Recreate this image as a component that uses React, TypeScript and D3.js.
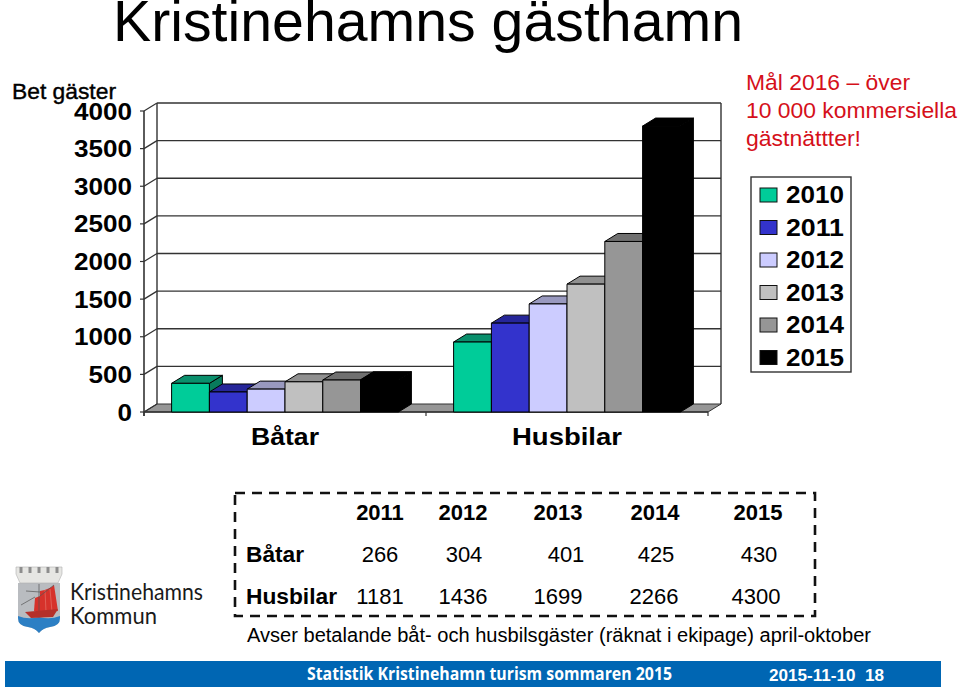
import React from "react";
import * as d3 from "d3";

const categories = ["Båtar", "Husbilar"];
const years = ["2010", "2011", "2012", "2013", "2014", "2015"];
const seriesColors = ["#00cc99", "#3333cc", "#ccccff", "#c0c0c0", "#969696", "#000000"];
const seriesTops = ["#0a8f6c", "#262699", "#9999bf", "#909090", "#707070", "#000000"];
const seriesSides = ["#087a5c", "#1f1f80", "#8080a0", "#7a7a7a", "#5e5e5e", "#000000"];

// bar heights as drawn in the chart (the last Husbilar bar stops below the table's 4300)
const boatBars = [381, 266, 304, 401, 425, 430];
const camperBars = [930, 1181, 1436, 1699, 2266, 3800];

const tableYears = ["2011", "2012", "2013", "2014", "2015"];
const tableBoats = ["266", "304", "401", "425", "430"];
const tableCampers = ["1181", "1436", "1699", "2266", "4300"];

const tableHeadX = [380, 463, 558, 655, 758];
const tableBoatX = [380, 464, 566, 656, 759];
const tableCamperX = [380, 463, 558, 654, 756];

const DX = 13;
const DY = -8;
const sans = "'Liberation Sans', Arial, sans-serif";

const y = d3.scaleLinear().domain([0, 4000]).range([412, 111]);
const x0 = d3.scaleBand<string>().domain(categories).range([144, 708]);
const x1 = d3
  .scaleBand<string>()
  .domain(years)
  .range([0, x0.bandwidth()])
  .paddingInner(0)
  .paddingOuter(0.73);

const poly = (pts: [number, number][]) => {
  const p = d3.path();
  pts.forEach(([a, b], i) => (i ? p.lineTo(a, b) : p.moveTo(a, b)));
  p.closePath();
  return p.toString();
};

const Bar = ({ left, value, i }: { left: number; value: number; i: number }) => {
  const w = x1.bandwidth();
  const t = y(value);
  const b = y(0);
  const stroke = "#000";
  return (
    <g stroke={stroke} strokeWidth={1} strokeLinejoin="round">
      <path
        d={poly([[left + w, t], [left + w + DX, t + DY], [left + w + DX, b + DY], [left + w, b]])}
        fill={seriesSides[i]}
      />
      <path
        d={poly([[left, t], [left + DX, t + DY], [left + w + DX, t + DY], [left + w, t]])}
        fill={seriesTops[i]}
      />
      <rect x={left} y={t} width={w} height={b - t} fill={seriesColors[i]} />
    </g>
  );
};

const Logo = () => (
  <g>
    <path d="M18 583 L60 583 L60 618 Q60 626 50 627 Q43 628 39 633 Q35 628 28 627 Q18 626 18 618 Z" fill="#b9bcc0" />
    <path d="M16 567 L62 567 L62 574 L58 583 L20 583 L16 574 Z" fill="#e6e6e3" stroke="#b0b0b0" strokeWidth={0.6} />
    {d3.range(5).map((k) => (
      <rect key={k} x={19.5 + k * 9} y={567} width={3} height={6} fill="#8d8d8d" />
    ))}
    <path d="M18 616 Q28 620 39 617 Q50 620 60 616 L60 618 Q60 626 50 627 Q43 628 39 633 Q35 628 28 627 Q18 626 18 618 Z" fill="#2c7fc4" />
    <path d="M40 591 Q50 589 54 585 L58 611 L40 613 Z" fill="#d6322b" />
    <path d="M35 598 L40 596 L40 611 L34 611 Z" fill="#d6322b" />
    <path d="M45 590 L46 612 M50 589 L52 612" stroke="#e88a80" strokeWidth={0.5} fill="none" />
    <path d="M26 591 L40 592 M39 584 L39 612 M21 605 L35 597 M54 585 L40 596" stroke="#555" strokeWidth={0.7} fill="none" />
    <path d="M25 612 L58 609 L53 617 L31 618 Z" fill="#b5302a" />
  </g>
);

export default function App() {
  const ticks = y.ticks(8);
  const floor = y(0);
  const axisColor = "#333";

  return (
    <svg
      width={960}
      height={692}
      style={{ position: "absolute", left: 0, top: 0, background: "#fff" }}
      fontFamily={sans}
    >
      <text x={113} y={41} fontSize={57} textLength={630} lengthAdjust="spacingAndGlyphs" fill="#000">
        Kristinehamns gästhamn
      </text>
      <text x={12} y={99} fontSize={22} textLength={104} lengthAdjust="spacingAndGlyphs" stroke="#000" strokeWidth={0.4}>
        Bet gäster
      </text>

      {/* back wall and grid */}
      {ticks.slice(1).map((t) => (
        <line key={t} x1={144 + DX} x2={708 + DX} y1={y(t) + DY} y2={y(t) + DY} stroke={axisColor} strokeWidth={1.4} />
      ))}
      <line x1={144 + DX} x2={144 + DX} y1={y(4000) + DY} y2={floor + DY} stroke={axisColor} strokeWidth={1.4} />
      <line x1={708 + DX} x2={708 + DX} y1={y(4000) + DY} y2={floor + DY} stroke={axisColor} strokeWidth={1.4} />
      <path
        d={poly([[144, floor], [144 + DX, floor + DY], [708 + DX, floor + DY], [708, floor]])}
        fill="#969696"
        stroke={axisColor}
        strokeWidth={1}
      />

      {/* y axis */}
      <line x1={144} x2={144} y1={y(4000)} y2={floor + 4} stroke={axisColor} strokeWidth={1.6} />
      {ticks.map((t) => (
        <g key={t}>
          <line x1={140} x2={144} y1={y(t)} y2={y(t)} stroke={axisColor} strokeWidth={1.2} />
          <line x1={144} x2={144 + DX} y1={y(t)} y2={y(t) + DY} stroke={axisColor} strokeWidth={1.2} />
          <text
            x={132}
            y={y(t) + 8.5}
            textAnchor="end"
            fontSize={23}
            fontWeight="bold"
            textLength={t === 0 ? 14.5 : t < 1000 ? 43.5 : 58}
            lengthAdjust="spacingAndGlyphs"
          >
            {t}
          </text>
        </g>
      ))}

      {/* x axis */}
      <line x1={144} x2={708} y1={floor} y2={floor} stroke={axisColor} strokeWidth={1.4} />
      {[144, 426, 708].map((v) => (
        <line key={v} x1={v} x2={v} y1={floor} y2={floor + 4} stroke={axisColor} strokeWidth={1.2} />
      ))}

      {/* bars */}
      {categories.map((c, ci) =>
        (ci === 0 ? boatBars : camperBars).map((v, i) => (
          <Bar key={c + i} left={(x0(c) as number) + (x1(years[i]) as number)} value={v} i={i} />
        ))
      )}

      <text x={251} y={445} fontSize={24} fontWeight="bold" textLength={68} lengthAdjust="spacingAndGlyphs">
        {categories[0]}
      </text>
      <text x={512} y={445} fontSize={24} fontWeight="bold" textLength={110} lengthAdjust="spacingAndGlyphs">
        {categories[1]}
      </text>

      {/* note */}
      <g fill="#d5101a" fontSize={22}>
        <text x={746} y={90} textLength={164} lengthAdjust="spacingAndGlyphs">Mål 2016 – över</text>
        <text x={746} y={118} textLength={211} lengthAdjust="spacingAndGlyphs">10 000 kommersiella</text>
        <text x={746} y={146} textLength={115} lengthAdjust="spacingAndGlyphs">gästnättter!</text>
      </g>

      {/* legend */}
      <rect x={751} y={177} width={100} height={195} fill="#fff" stroke="#333" strokeWidth={1.4} />
      {years.map((yr, i) => {
        const cy = 195 + i * 32.5;
        return (
          <g key={yr}>
            <rect x={760} y={cy - 7} width={17} height={14} fill={seriesColors[i]} stroke="#111" strokeWidth={1} />
            <text x={786} y={cy + 8} fontSize={23} fontWeight="bold" textLength={58} lengthAdjust="spacingAndGlyphs">
              {yr}
            </text>
          </g>
        );
      })}

      {/* table */}
      <rect x={235} y={493} width={580} height={123} fill="none" stroke="#111" strokeWidth={2.6} strokeDasharray="10 7" />
      {tableYears.map((yr, i) => (
        <text key={yr} x={tableHeadX[i]} y={520} textAnchor="middle" fontSize={22} fontWeight="bold">
          {yr}
        </text>
      ))}
      <text x={246} y={562} fontSize={22} fontWeight="bold" textLength={58} lengthAdjust="spacingAndGlyphs">{categories[0]}</text>
      <text x={246} y={604} fontSize={22} fontWeight="bold" textLength={91} lengthAdjust="spacingAndGlyphs">{categories[1]}</text>
      {tableBoats.map((v, i) => (
        <text key={v} x={tableBoatX[i]} y={562} textAnchor="middle" fontSize={22}>{v}</text>
      ))}
      {tableCampers.map((v, i) => (
        <text key={v} x={tableCamperX[i]} y={604} textAnchor="middle" fontSize={22}>{v}</text>
      ))}
      <text x={247} y={642} fontSize={20} textLength={624} lengthAdjust="spacingAndGlyphs">
        Avser betalande båt- och husbilsgäster (räknat i ekipage) april-oktober
      </text>

      {/* logo */}
      <Logo />
      <g fontFamily="Lato, 'Open Sans', sans-serif" fontSize={24} fill="#1a1a1a">
        <text x={70} y={600} textLength={133} lengthAdjust="spacingAndGlyphs">Kristinehamns</text>
        <text x={70} y={624} textLength={87} lengthAdjust="spacingAndGlyphs">Kommun</text>
      </g>

      {/* footer */}
      <rect x={5} y={661} width={936} height={26} fill="#0066b3" />
      <text
        x={307}
        y={680}
        fontFamily="'Open Sans', sans-serif"
        fontWeight={700}
        fontSize={17}
        fill="#fff"
        textLength={365}
        lengthAdjust="spacingAndGlyphs"
      >
        Statistik Kristinehamn turism sommaren 2015
      </text>
      <text x={769} y={681} fontSize={17} fontWeight="bold" fill="#fff" textLength={115} lengthAdjust="spacingAndGlyphs" xmlSpace="preserve">
        2015-11-10  18
      </text>
    </svg>
  );
}
